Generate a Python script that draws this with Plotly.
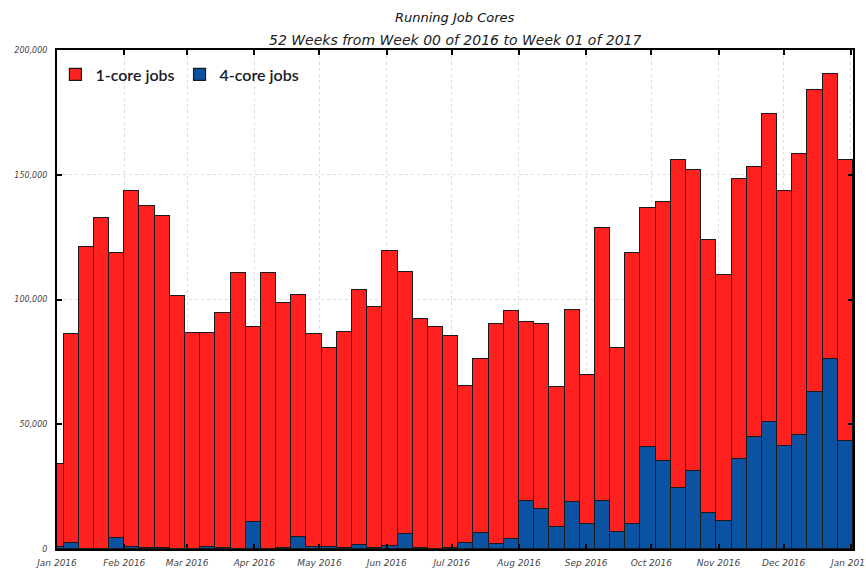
import pandas as pd
import plotly.graph_objects as go

# Week start dates (Monday), week 00 of 2016 through week 52 of 2016
week_starts = pd.date_range("2015-12-28", periods=53, freq="7D")

# 4-core jobs (bottom, blue)
four_core = [1000, 2500, 0, 0, 4500, 700, 300, 300, 0, 0,
             800, 300, 0, 11000, 200, 400, 5000, 800, 800, 300,
             1500, 300, 1200, 6000, 300, 200, 500, 2500, 6500, 2200,
             4000, 19200, 16200, 8700, 19000, 10000, 19200, 7000, 10200, 40700,
             35100, 24500, 31100, 14500, 11100, 36100, 44700, 50900, 41100, 45800,
             62900, 76200, 43100]

# 1-core jobs (stacked on top, red)
one_core = [33000, 83500, 121000, 132500, 114000, 142800, 137200, 133200, 101500, 86500,
            85700, 94200, 110800, 78000, 110600, 98100, 97000, 85500, 79900, 86700,
            102500, 96700, 118300, 105000, 91900, 88600, 85000, 63000, 69800, 88000,
            91500, 71600, 74100, 56300, 76800, 59800, 109500, 73600, 108500, 96000,
            104000, 131300, 120700, 109300, 98700, 112000, 108400, 123600, 102300, 112700,
            120900, 114300, 113000]

y_ticks = [0, 50000, 100000, 150000, 200000]

week_ms = 7 * 24 * 3600 * 1000

fig = go.Figure()
fig.add_trace(go.Bar(
    x=week_starts, y=four_core, name="4-core jobs",
    marker=dict(color="#0b52a3", line=dict(color="#1a1a1a", width=1.2)),
    width=week_ms, offset=0,
))
fig.add_trace(go.Bar(
    x=week_starts, y=one_core, name="1-core jobs",
    marker=dict(color="#ff2020", line=dict(color="#1a1a1a", width=1.2)),
    width=week_ms, offset=0,
))

fig.update_layout(
    width=866, height=569,
    barmode="stack", bargap=0,
    plot_bgcolor="white", paper_bgcolor="white",
    margin=dict(l=57, r=13, t=50, b=20, autoexpand=False),
    showlegend=True,
    legend=dict(
        orientation="h", x=-0.002, y=0.985, xanchor="left", yanchor="top",
        traceorder="reversed",
        font=dict(family="Lato", size=16, color="#1a1a2a", weight=600),
        bgcolor="rgba(0,0,0,0)", itemwidth=30, tracegroupgap=0,
    ),
    annotations=[
        dict(text="<i>Running Job Cores</i>", x=0.5, y=1.066, xref="paper", yref="paper",
             showarrow=False, xanchor="center", yanchor="middle",
             font=dict(family="DejaVu Sans", size=13, color="#111")),
        dict(text="<i>52 Weeks from Week 00 of 2016 to Week 01 of 2017</i>", x=0.5, y=1.02,
             xref="paper", yref="paper", showarrow=False, xanchor="center", yanchor="middle",
             font=dict(family="DejaVu Sans", size=14, color="#222")),
    ],
)

fig.update_xaxes(
    type="date", range=["2016-01-01", "2017-01-02"],
    dtick="M1", tick0="2016-01-01", tickformat="%b %Y",
    showline=True, linecolor="black", linewidth=2, mirror="ticks",
    ticks="inside", ticklen=5, tickwidth=2, tickcolor="black",
    showgrid=True, gridcolor="#dcdcdc", griddash="dot", gridwidth=1,
    tickfont=dict(family="DejaVu Sans", size=9, color="#444", style="italic"),
    ticklabelstandoff=4, ticklabeloverflow="allow", automargin=False,
)
fig.update_yaxes(
    range=[0, 200000], tickvals=y_ticks, tickformat=",",
    showline=True, linecolor="black", linewidth=2, mirror="ticks",
    ticks="inside", ticklen=5, tickwidth=2, tickcolor="black",
    showgrid=True, gridcolor="#dcdcdc", griddash="dot", gridwidth=1,
    zeroline=False,
    tickfont=dict(family="DejaVu Sans", size=8, color="#444", style="italic"),
    ticklabelstandoff=6, automargin=False,
)

fig.write_html(
    "out.html",
    config={"displayModeBar": False},
    post_script="document.body.style.margin='0';document.body.style.overflow='hidden';",
)
